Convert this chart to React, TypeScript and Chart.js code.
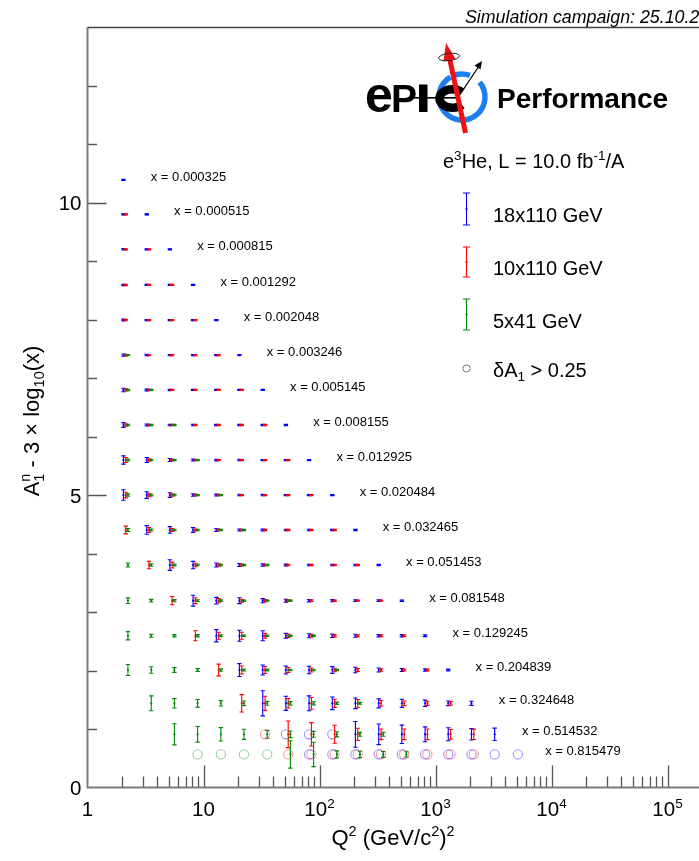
import React, { useEffect, useRef } from 'react';
import { Chart, registerables } from 'chart.js';

Chart.register(...registerables);

// Bjorken-x bins: one row of points per bin
const xBins = [
  0.000325, 0.000515, 0.000815, 0.001292, 0.002048, 0.003246, 0.005145, 0.008155, 0.012925,
  0.020484, 0.032465, 0.051453, 0.081548, 0.129245, 0.204839, 0.324648, 0.514532, 0.815479,
];

// Projected A1n central value in each x bin
const a1Values = [
  -0.07, -0.06, -0.06, -0.07, -0.07, -0.07, -0.066, -0.065, -0.064,
  -0.063, -0.061, -0.06, -0.07, -0.07, -0.056, -0.026, 0.044, 0.3,
];

// Q² bin centres (GeV/c²)²
const q2Centers = [
  2.04, 3.24, 5.13, 8.13, 12.9, 20.4, 32.4, 51.3, 81.3, 129, 204, 324, 513, 813, 1288, 2042, 3236, 5129,
];

// Statistical uncertainty δA1 per x bin: [first Q² bin index, δA1 in consecutive Q² bins]
const errBlue18x110: [number, number[]][] = [
  [0, [0.01]],
  [0, [0.01, 0.01]],
  [0, [0.012, 0.01, 0.01]],
  [0, [0.012, 0.01, 0.01, 0.01]],
  [0, [0.015, 0.01, 0.01, 0.01, 0.01]],
  [0, [0.02, 0.012, 0.01, 0.01, 0.01, 0.01]],
  [0, [0.03, 0.015, 0.012, 0.01, 0.01, 0.01, 0.01]],
  [0, [0.04, 0.018, 0.014, 0.012, 0.01, 0.01, 0.01, 0.01]],
  [0, [0.07, 0.043, 0.025, 0.018, 0.014, 0.012, 0.01, 0.01, 0.01]],
  [0, [0.09, 0.057, 0.04, 0.022, 0.016, 0.013, 0.012, 0.01, 0.01, 0.01]],
  [1, [0.074, 0.057, 0.04, 0.025, 0.018, 0.015, 0.012, 0.012, 0.01, 0.01]],
  [2, [0.091, 0.063, 0.035, 0.025, 0.02, 0.015, 0.013, 0.012, 0.012, 0.01]],
  [3, [0.094, 0.057, 0.05, 0.035, 0.025, 0.02, 0.018, 0.015, 0.013, 0.012]],
  [4, [0.105, 0.094, 0.085, 0.04, 0.035, 0.03, 0.025, 0.02, 0.02, 0.015]],
  [5, [0.11, 0.085, 0.068, 0.065, 0.057, 0.048, 0.035, 0.025, 0.02, 0.015]],
  [6, [0.214, 0.12, 0.128, 0.108, 0.09, 0.077, 0.07, 0.055, 0.04, 0.035]],
  [7, [0.3, 0.28, 0.27, 0.22, 0.176, 0.157, 0.128, 0.111, 0.097, 0.106]],
  [8, [0.31, 0.3, 0.3, 0.3, 0.3, 0.3, 0.3, 0.3, 0.3, 0.3]],
];

const errRed10x110: [number, number[]][] = [
  [0, []],
  [0, [0.01]],
  [0, [0.01, 0.01]],
  [0, [0.012, 0.01, 0.01]],
  [0, [0.012, 0.01, 0.01, 0.01]],
  [0, [0.015, 0.01, 0.01, 0.01, 0.01]],
  [0, [0.018, 0.012, 0.01, 0.01, 0.01, 0.01]],
  [0, [0.02, 0.014, 0.012, 0.01, 0.01, 0.01, 0.01]],
  [0, [0.043, 0.02, 0.015, 0.012, 0.01, 0.01, 0.01, 0.01]],
  [0, [0.048, 0.03, 0.02, 0.015, 0.012, 0.01, 0.01, 0.01, 0.01]],
  [0, [0.066, 0.04, 0.025, 0.018, 0.014, 0.012, 0.01, 0.01, 0.01, 0.01]],
  [1, [0.063, 0.05, 0.03, 0.02, 0.015, 0.013, 0.012, 0.01, 0.01, 0.01]],
  [2, [0.071, 0.05, 0.035, 0.025, 0.02, 0.015, 0.013, 0.012, 0.01, 0.01]],
  [3, [0.085, 0.06, 0.06, 0.04, 0.03, 0.025, 0.02, 0.018, 0.015, 0.013]],
  [4, [0.1, 0.068, 0.06, 0.043, 0.034, 0.03, 0.025, 0.02, 0.017, 0.015]],
  [5, [0.149, 0.12, 0.08, 0.1, 0.07, 0.066, 0.048, 0.04, 0.035, 0.03]],
  [6, [0.29, 0.228, 0.2, 0.154, 0.105, 0.09, 0.09, 0.09, 0.083, 0.088]],
  [7, [0.3, 0.3, 0.3, 0.3, 0.3, 0.3, 0.3, 0.3, 0.3]],
];

const errGreen5x41: [number, number[]][] = [
  [0, []],
  [0, []],
  [0, []],
  [0, []],
  [0, []],
  [0, [0.01]],
  [0, [0.012, 0.01]],
  [0, [0.014, 0.01, 0.01]],
  [0, [0.016, 0.012, 0.01, 0.01]],
  [0, [0.02, 0.014, 0.012, 0.01, 0.01]],
  [0, [0.025, 0.016, 0.013, 0.012, 0.01, 0.01]],
  [0, [0.034, 0.02, 0.015, 0.013, 0.012, 0.01, 0.01]],
  [0, [0.048, 0.022, 0.018, 0.015, 0.013, 0.012, 0.01, 0.01]],
  [0, [0.071, 0.025, 0.02, 0.02, 0.016, 0.014, 0.012, 0.01, 0.01]],
  [0, [0.094, 0.056, 0.04, 0.025, 0.02, 0.018, 0.015, 0.013, 0.012, 0.01]],
  [1, [0.128, 0.08, 0.065, 0.046, 0.04, 0.034, 0.03, 0.026, 0.02, 0.017]],
  [2, [0.18, 0.133, 0.115, 0.086, 0.068, 0.056, 0.05, 0.043, 0.034, 0.034]],
  [3, [0.3, 0.3, 0.3, 0.3, 0.234, 0.208, 0.06, 0.055, 0.05, 0.045]],
];

const beamLabels = ['18x110 GeV', '10x110 GeV', '5x41 GeV'];
const beamColors = ['#0000ff', '#ff0000', '#008a00'];
const circleColors = ['rgba(0,0,255,0.42)', 'rgba(255,0,0,0.42)', 'rgba(0,138,0,0.42)'];
// small multiplicative Q² shift so that overlapping beam settings stay visible
const q2Shift = [1, 1.047, 1.094];
const dA1Limit = 0.25;

const xMajorTicks = [1, 10, 100, 1000, 10000, 100000];
const xTickExponents = ['', '', '2', '3', '4', '5'];
const yMajorTicks = [0, 5, 10];

const FONT = '"Liberation Sans", Arial, Helvetica, sans-serif';

const rowValue = (row: number) => a1Values[row] - 3 * Math.log10(xBins[row]);

function buildSeries(table: [number, number[]][], shift: number) {
  const points: { x: number; y: number }[] = [];
  const errors: number[] = [];
  const circles: { x: number; y: number }[] = [];
  table.forEach(([start, errs], row) => {
    errs.forEach((e, j) => {
      const p = { x: q2Centers[start + j] * shift, y: rowValue(row) };
      if (e > dA1Limit) circles.push(p);
      else {
        points.push(p);
        errors.push(e);
      }
    });
  });
  return { points, errors, circles };
}

type Part = { t: string; s: number; dy?: number; noAdvance?: boolean; style?: string };

function richWidth(ctx: CanvasRenderingContext2D, parts: Part[]) {
  let w = 0;
  for (const p of parts) {
    ctx.font = `${p.style || ''} ${p.s}px ${FONT}`;
    if (!p.noAdvance) w += ctx.measureText(p.t).width;
  }
  return w;
}

function drawRich(ctx: CanvasRenderingContext2D, parts: Part[], x: number, y: number, align: 'left' | 'center' | 'right') {
  const w = richWidth(ctx, parts);
  let cx = align === 'left' ? x : align === 'center' ? x - w / 2 : x - w;
  ctx.textAlign = 'left';
  ctx.textBaseline = 'alphabetic';
  for (const p of parts) {
    ctx.font = `${p.style || ''} ${p.s}px ${FONT}`;
    ctx.fillText(p.t, cx, y + (p.dy || 0));
    if (!p.noAdvance) cx += ctx.measureText(p.t).width;
  }
}

function drawLogo(ctx: CanvasRenderingContext2D) {
  ctx.save();
  // detector ring
  ctx.strokeStyle = '#1b7ff2';
  ctx.lineWidth = 5.5;
  const rc = { x: 462, y: 97, r: 23 };
  const deg = Math.PI / 180;
  ctx.beginPath();
  ctx.arc(rc.x, rc.y, rc.r, -40 * deg, 240 * deg);
  ctx.stroke();
  ctx.beginPath();
  ctx.arc(rc.x, rc.y, rc.r, 252 * deg, 290 * deg);
  ctx.stroke();

  ctx.fillStyle = '#000';
  ctx.textBaseline = 'alphabetic';
  ctx.textAlign = 'left';
  ctx.font = `bold 50px ${FONT}`;
  ctx.fillText('e', 365, 111.5);
  ctx.font = `bold 39px ${FONT}`;
  ctx.fillText('P', 391, 112);
  // I
  ctx.fillRect(419, 84.5, 8.5, 27.5);
  // beam line
  ctx.fillRect(414, 97, 46, 1.6);
  // C
  ctx.strokeStyle = '#000';
  ctx.lineWidth = 8.5;
  ctx.beginPath();
  ctx.ellipse(452.5, 98.5, 13, 9.2, 0, 0.75, Math.PI * 2 - 0.75);
  ctx.stroke();

  // scattered electron arrow
  ctx.strokeStyle = '#000';
  ctx.lineWidth = 1.3;
  ctx.beginPath();
  ctx.moveTo(457, 99);
  ctx.lineTo(479, 66);
  ctx.stroke();
  ctx.beginPath();
  ctx.moveTo(482, 61);
  ctx.lineTo(474.5, 65.5);
  ctx.lineTo(480.5, 69.5);
  ctx.closePath();
  ctx.fill();

  // spin arrow
  ctx.strokeStyle = '#ee1111';
  ctx.lineWidth = 5;
  ctx.beginPath();
  ctx.moveTo(465.5, 133);
  ctx.lineTo(449.5, 58);
  ctx.stroke();
  ctx.fillStyle = '#ee1111';
  ctx.beginPath();
  ctx.moveTo(446, 43);
  ctx.lineTo(455.5, 59);
  ctx.lineTo(443.5, 61.5);
  ctx.closePath();
  ctx.fill();
  // spin ellipse
  ctx.strokeStyle = '#222';
  ctx.lineWidth = 1;
  ctx.beginPath();
  ctx.ellipse(449, 57, 10.5, 3.6, -0.12, 0, Math.PI * 2);
  ctx.stroke();

  ctx.fillStyle = '#000';
  ctx.font = `bold 28px ${FONT}`;
  ctx.fillText('Performance', 497, 108);
  ctx.restore();
}

function drawErrorSymbol(ctx: CanvasRenderingContext2D, x: number, y0: number, y1: number, color: string, cap: number) {
  ctx.strokeStyle = color;
  ctx.fillStyle = color;
  ctx.lineWidth = 1.1;
  ctx.beginPath();
  ctx.moveTo(x, y0);
  ctx.lineTo(x, y1);
  ctx.moveTo(x - cap, y0);
  ctx.lineTo(x + cap, y0);
  ctx.moveTo(x - cap, y1);
  ctx.lineTo(x + cap, y1);
  ctx.stroke();
}

const framePlugin = {
  id: 'rootFrame',
  beforeDatasetsDraw(chart: any) {
    const { ctx, chartArea: a, scales } = chart;
    const xs = scales.x;
    const ys = scales.y;
    ctx.save();
    ctx.strokeStyle = '#555';
    ctx.lineWidth = 1.3;
    ctx.beginPath();
    for (let k = 0; k < 6; k++) {
      for (let m = 1; m < 10; m++) {
        if (k === 0 && m === 1) continue;
        const px = Math.round(xs.getPixelForValue(m * 10 ** k)) + 0.5;
        const len = m === 1 ? 22 : 11;
        ctx.moveTo(px, a.bottom);
        ctx.lineTo(px, a.bottom - len);
      }
    }
    for (let v = 1; v < 13; v++) {
      const py = Math.round(ys.getPixelForValue(v)) + 0.5;
      const len = v % 5 === 0 ? 19 : 9.5;
      ctx.moveTo(a.left, py);
      ctx.lineTo(a.left + len, py);
    }
    ctx.stroke();
    ctx.strokeStyle = '#7c7c7c';
    ctx.lineWidth = 2;
    ctx.beginPath();
    ctx.moveTo(a.left, a.top);
    ctx.lineTo(a.left, a.bottom);
    ctx.lineTo(a.right, a.bottom);
    ctx.stroke();
    ctx.strokeStyle = '#444';
    ctx.lineWidth = 1.5;
    ctx.beginPath();
    ctx.moveTo(a.left, a.top);
    ctx.lineTo(a.right, a.top);
    ctx.stroke();
    ctx.restore();
  },
};

const errorBarPlugin = {
  id: 'errorBars',
  afterDatasetsDraw(chart: any) {
    const { ctx } = chart;
    const ys = chart.scales.y;
    ctx.save();
    chart.data.datasets.forEach((ds: any, i: number) => {
      if (!ds.errors) return;
      const meta = chart.getDatasetMeta(i);
      meta.data.forEach((el: any, j: number) => {
        const v = ds.data[j].y;
        const e = ds.errors[j];
        const yTop = ys.getPixelForValue(v + e);
        const yBot = ys.getPixelForValue(v - e);
        drawErrorSymbol(ctx, el.x, yTop, yBot, ds.borderColor, 2.2);
      });
    });
    ctx.restore();
  },
};

const textPlugin = {
  id: 'rootText',
  afterDraw(chart: any) {
    const { ctx, chartArea: a } = chart;
    const xs = chart.scales.x;
    const ys = chart.scales.y;
    ctx.save();
    ctx.fillStyle = '#000';

    // axis tick labels
    xMajorTicks.forEach((v, i) => {
      const px = xs.getPixelForValue(v);
      const parts: Part[] = [{ t: i === 0 ? '1' : '10', s: 20.5 }];
      if (xTickExponents[i]) parts.push({ t: xTickExponents[i], s: 13.5, dy: -8 });
      drawRich(ctx, parts, px, a.bottom + 28.5, 'center');
    });
    yMajorTicks.forEach((v) => {
      const py = ys.getPixelForValue(v);
      drawRich(ctx, [{ t: String(v), s: 20.5 }], a.left - 6, py + 7.5, 'right');
    });

    // axis titles
    drawRich(
      ctx,
      [
        { t: 'Q', s: 22 },
        { t: '2', s: 14.5, dy: -9 },
        { t: ' (GeV/c', s: 22 },
        { t: '2', s: 14.5, dy: -9 },
        { t: ')', s: 22 },
        { t: '2', s: 14.5, dy: -9 },
      ],
      393,
      845,
      'center'
    );
    ctx.save();
    ctx.translate(39, 421);
    ctx.rotate(-Math.PI / 2);
    drawRich(
      ctx,
      [
        { t: 'A', s: 22 },
        { t: 'n', s: 14.5, dy: -9, noAdvance: true },
        { t: '1', s: 14.5, dy: 5 },
        { t: ' - 3 \u00d7 log', s: 22 },
        { t: '10', s: 14.5, dy: 5 },
        { t: '(x)', s: 22 },
      ],
      0,
      0,
      'center'
    );
    ctx.restore();

    // x-bin labels placed after the last point of each row
    xBins.forEach((xb, row) => {
      const [start, errs] = errBlue18x110[row];
      const lastQ2 = q2Centers[start + errs.length - 1];
      const px = xs.getPixelForValue(lastQ2 * 1.72);
      const py = ys.getPixelForValue(rowValue(row));
      drawRich(ctx, [{ t: `x = ${xb}`, s: 13 }], px, py + 1, 'left');
    });

    // campaign tag
    drawRich(ctx, [{ t: 'Simulation campaign: 25.10.2', s: 17.8, style: 'italic' }], 465, 23, 'left');

    drawLogo(ctx);

    // legend
    drawRich(
      ctx,
      [
        { t: 'e', s: 20 },
        { t: '3', s: 13.5, dy: -8 },
        { t: 'He, L = 10.0 fb', s: 20 },
        { t: '-1', s: 13.5, dy: -8 },
        { t: '/A', s: 20 },
      ],
      443,
      168,
      'left'
    );
    const legendRows = [
      { y0: 193, y1: 225, base: 221.5 },
      { y0: 247, y1: 277, base: 275 },
      { y0: 299, y1: 330, base: 328 },
    ];
    legendRows.forEach((r, i) => {
      drawErrorSymbol(ctx, 466.5, r.y0, r.y1, beamColors[i], 3.5);
      ctx.beginPath();
      ctx.arc(466.5, (r.y0 + r.y1) / 2, 1.1, 0, Math.PI * 2);
      ctx.fill();
      ctx.fillStyle = '#000';
      drawRich(ctx, [{ t: beamLabels[i], s: 20 }], 493, r.base, 'left');
    });
    ctx.strokeStyle = '#777';
    ctx.lineWidth = 1;
    ctx.beginPath();
    ctx.arc(466.5, 368.5, 3.6, 0, Math.PI * 2);
    ctx.stroke();
    ctx.fillStyle = '#000';
    drawRich(
      ctx,
      [
        { t: '\u03b4A', s: 20 },
        { t: '1', s: 13.5, dy: 4 },
        { t: ' > ' + dA1Limit, s: 20 },
      ],
      493,
      377,
      'left'
    );
    ctx.restore();
  },
};

export default function App() {
  const canvasRef = useRef<HTMLCanvasElement | null>(null);

  useEffect(() => {
    const canvas = canvasRef.current;
    if (!canvas) return;
    const tables = [errBlue18x110, errRed10x110, errGreen5x41];
    const datasets: any[] = [];
    tables.forEach((tb, i) => {
      const s = buildSeries(tb, q2Shift[i]);
      datasets.push({
        label: beamLabels[i],
        data: s.points,
        errors: s.errors,
        borderColor: beamColors[i],
        backgroundColor: beamColors[i],
        pointRadius: 1.1,
        pointBorderWidth: 0,
        showLine: false,
      });
      datasets.push({
        label: beamLabels[i] + ' (\u03b4A1 > ' + dA1Limit + ')',
        data: s.circles,
        borderColor: circleColors[i],
        backgroundColor: 'rgba(0,0,0,0)',
        pointRadius: 4.6,
        pointBorderWidth: 1.1,
        pointStyle: 'circle',
        showLine: false,
      });
    });

    const chart = new Chart(canvas, {
      type: 'scatter',
      data: { datasets },
      options: {
        animation: false,
        responsive: false,
        maintainAspectRatio: false,
        events: [],
        layout: { padding: { left: 87.5, right: 6.5, top: 27.5, bottom: 73.5 } },
        scales: {
          x: { type: 'logarithmic', min: 1, max: 1e6, display: false },
          y: { type: 'linear', min: 0, max: 13, display: false },
        },
        plugins: { legend: { display: false }, tooltip: { enabled: false } },
      },
      plugins: [framePlugin, errorBarPlugin, textPlugin],
    } as any);
    return () => chart.destroy();
  }, []);

  return (
    <div style={{ position: 'fixed', left: 0, top: 0, width: 699, height: 861, overflow: 'hidden', background: '#fff' }}>
      <canvas ref={canvasRef} width={790} height={861} style={{ width: 790, height: 861, display: 'block' }} />
    </div>
  );
}
